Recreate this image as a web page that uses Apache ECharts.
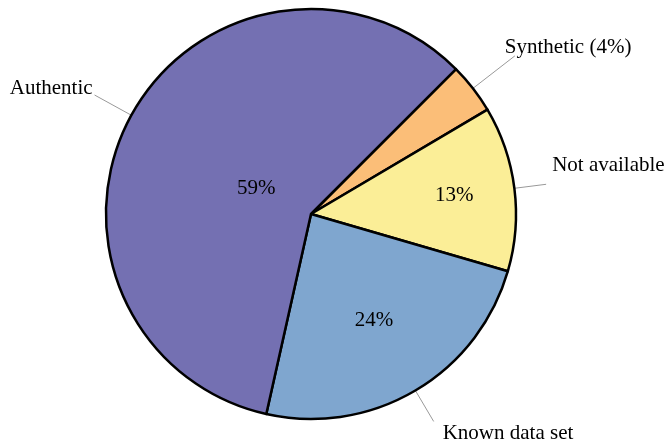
<!DOCTYPE html>
<html>
<head>
<meta charset="utf-8">
<script src="https://cdn.jsdelivr.net/npm/echarts@6/dist/echarts.min.js"></script>
<style>
  html, body { margin: 0; padding: 0; background: #fff; }
  #main { width: 669px; height: 444px; }
</style>
</head>
<body>
<div id="main"></div>
<script>
// data, clockwise from the top-right
const categories = ['Synthetic', 'Not available', 'Known data set', 'Authentic'];
const shares = [4, 13, 24, 59];
const colors = ['#fbbe78', '#fbee97', '#7fa6cf', '#7470b2'];

// where the % text sits, as a fraction of the radius (null = it goes with the name outside)
const pctRadius = [null, 0.69, 0.59, 0.29];
const pctShiftY = [0, 0, 0, 5];
const lineLen = [53, 32, 36, 42];
// nudges for the outside names: padding (horizontal) and a vertical shift
const namePadding = [[0, 0, 0, -15], [0, 0, 0, 1], [0, 0, 0, 4], [0, -3, 0, 0]];
const nameShiftY = [-8, -18.5, 12, -7];

const R = 205;
const center = [311, 214];
const font = 'Liberation Serif';

const myChart = echarts.init(document.getElementById('main'));

// an empty second line above/below moves the text by half a line
function shifted(txt, dy) {
    if (!dy) return { formatter: txt };
    return {
        formatter: dy < 0 ? txt + '\n' : '\n' + txt,
        lineHeight: Math.abs(dy) * 2
    };
}

function nameLabel(i) {
    const txt = pctRadius[i] === null ? categories[i] + ' (' + shares[i] + '%)' : categories[i];
    const lab = shifted(txt, nameShiftY[i]);
    lab.padding = namePadding[i];
    return lab;
}

const series = [{
    type: 'pie',
    center: center,
    radius: R,
    startAngle: 45,
    clockwise: true,
    silent: true,
    avoidLabelOverlap: false,
    itemStyle: { borderColor: '#000', borderWidth: 2.5 },
    label: {
        position: 'outside',
        color: '#000',
        fontFamily: font,
        fontSize: 21,
        width: 170,
        overflow: 'none',
        distanceToLabelLine: 5
    },
    labelLine: {
        show: true,
        length2: 0,
        smooth: false,
        lineStyle: { color: '#999', width: 1 }
    },
    data: categories.map(function (c, i) {
        return {
            name: c,
            value: shares[i],
            itemStyle: { color: colors[i] },
            labelLine: { length: lineLen[i] },
            label: nameLabel(i)
        };
    })
}];

// one see-through ring per percentage label so each can sit at its own distance
pctRadius.forEach(function (f, i) {
    if (f === null) return;
    series.push({
        type: 'pie',
        center: center,
        radius: [f * R - 10, f * R + 10],
        startAngle: 45,
        clockwise: true,
        silent: true,
        avoidLabelOverlap: false,
        itemStyle: { color: 'transparent', borderWidth: 0 },
        labelLine: { show: false },
        label: {
            position: 'inside',
            color: '#000',
            fontFamily: font,
            fontSize: 21,
            textBorderWidth: 0
        },
        data: categories.map(function (c, j) {
            const lab = shifted(shares[j] + '%', pctShiftY[j]);
            lab.show = j === i;
            return { name: c, value: shares[j], label: lab };
        })
    });
});

myChart.setOption({
    animation: false,
    series: series
});
</script>
</body>
</html>
